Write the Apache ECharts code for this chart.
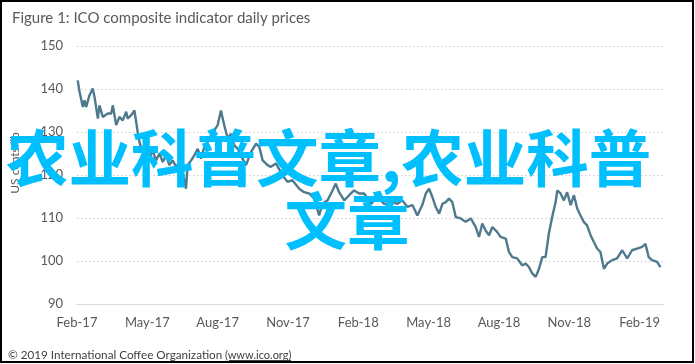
<!DOCTYPE html>
<html>
<head>
<meta charset="utf-8">
<script src="https://cdn.jsdelivr.net/npm/echarts@6/dist/echarts.min.js"></script>
<style>
html,body{margin:0;padding:0;background:#fff;}
#c{width:695px;height:364px;}
</style>
</head>
<body>
<div id="c"></div>
<script>
// Months since 1 Feb 2017
const months = [0.03,0.11,0.25,0.32,0.39,0.53,0.67,0.75,0.89,0.96,1.10,1.31,1.46,1.53,1.67,1.81,1.95,2.10,2.16,2.31,2.45,2.52,2.59,2.66,2.80,2.95,3.09,3.23,3.37,3.52,3.66,3.80,3.94,4.08,4.23,4.37,4.51,4.65,4.72,4.87,5.01,5.15,5.29,5.43,5.57,5.72,5.86,6.00,6.14,6.28,6.43,6.57,6.71,6.85,7.06,7.21,7.42,7.64,7.78,7.92,8.13,8.27,8.49,8.77,8.98,9.19,9.48,9.69,9.91,10.12,10.33,10.47,10.69,10.90,11.04,11.18,11.40,11.61,11.82,12.04,12.25,12.54,12.82,13.10,13.46,13.67,13.88,14.09,14.31,14.52,14.73,14.88,15.02,15.16,15.30,15.45,15.59,15.73,15.87,16.01,16.16,16.37,16.58,16.80,17.01,17.15,17.29,17.43,17.58,17.72,17.93,18.07,18.29,18.43,18.57,18.78,18.99,19.14,19.28,19.42,19.57,19.71,19.85,19.99,20.13,20.27,20.42,20.49,20.63,20.77,20.91,21.06,21.20,21.34,21.48,21.62,21.76,21.91,22.05,22.19,22.33,22.48,22.62,22.83,23.04,23.26,23.47,23.68,23.89,24.11,24.25,24.39,24.53,24.75,24.89];
// ICO composite indicator, US cents/lb
const prices = [142.0,139.3,135.8,137.4,135.8,138.5,140.1,138.1,133.1,136.2,133.5,134.3,134.3,136.2,131.6,133.5,132.7,134.7,133.1,133.9,135.0,135.4,130.0,127.7,125.3,126.5,123.8,125.7,123.4,125.0,123.0,124.6,122.3,123.4,121.9,123.0,120.7,116.8,122.3,123.4,124.6,126.1,123.8,126.5,127.7,129.2,130.4,131.6,135.0,131.6,128.5,129.6,126.9,126.1,123.8,122.3,125.3,127.3,126.5,123.4,122.3,121.9,122.7,119.9,118.4,118.8,116.8,116.0,115.7,114.5,110.6,113.3,114.1,116.4,118.0,116.0,114.1,115.3,116.4,115.7,115.7,113.3,114.9,113.3,113.7,113.3,114.1,112.6,113.0,110.6,113.0,115.7,116.8,114.9,112.6,111.0,113.3,113.7,114.5,113.7,110.2,109.9,109.1,109.9,107.9,105.6,108.7,107.1,106.0,107.9,106.7,105.6,105.2,102.1,100.9,100.6,99.0,99.4,98.6,97.1,96.3,98.2,100.9,100.9,106.4,110.2,113.7,116.4,115.7,114.1,116.0,113.0,115.3,112.2,110.6,109.1,108.3,106.0,104.4,102.9,102.1,98.2,99.4,100.2,100.6,102.5,100.6,102.5,102.9,103.3,104.0,100.9,100.2,99.8,98.6];
const tickLabels = ['Feb-17','May-17','Aug-17','Nov-17','Feb-18','May-18','Aug-18','Nov-18','Feb-19'];
const yTicks = [90,100,110,120,130,140,150];

const titleText = 'Figure 1: ICO composite indicator daily prices';
const yName = 'US cents/lb';
const footerText = '\u00a9 2019 International Coffee Organization';
const footerLink = '(www.ico.org)';
const overlay1 = '农业科普文章,农业科普';
const overlay2 = '文章';

const seriesData = months.map((m, i) => [m, prices[i]]);
const grey = '#595959';
const font = 'Lato, "Open Sans", sans-serif';

const chart = echarts.init(document.getElementById('c'), null, {renderer: 'canvas'});
chart.setOption({
  animation: false,
  backgroundColor: '#fff',
  title: {
    text: titleText, left: 7, top: 6,
    textStyle: {fontSize: 15, fontWeight: 'normal', color: grey, fontFamily: font}
  },
  grid: {left: 77, right: 32, top: 46, bottom: 60, containLabel: false},
  xAxis: {
    type: 'value', min: 0, max: 25, interval: 3,
    axisLine: {show: true, lineStyle: {color: '#d9d9d9', width: 1}},
    axisTick: {show: false},
    splitLine: {show: false},
    axisLabel: {
      margin: 12, color: grey, fontSize: 13, fontFamily: font,
      showMaxLabel: false,
      formatter: v => (Math.abs(v % 3) < 1e-6 && v / 3 < tickLabels.length) ? tickLabels[Math.round(v / 3)] : ''
    }
  },
  yAxis: {
    type: 'value', min: yTicks[0], max: yTicks[yTicks.length - 1], interval: 10,
    axisLine: {show: false}, axisTick: {show: false},
    axisLabel: {margin: 14, color: grey, fontSize: 13, fontFamily: font},
    splitLine: {show: true, lineStyle: {color: '#cfcfcf', width: 1, type: [1.5, 2.5]}}
  },
  series: [{
    type: 'line', data: seriesData, showSymbol: false, symbol: 'none',
    lineStyle: {color: '#4f7a8d', width: 2.4},
    z: 3
  }],
  graphic: [
    {type: 'text', z: 10, x: 15, y: 163, rotation: Math.PI / 2,
     style: {text: yName, fill: grey, fontSize: 12, fontFamily: font, align: 'center', verticalAlign: 'middle'}},
    {type: 'text', z: 10, x: 8, y: 355,
     style: {text: footerText, fill: '#404040', fontSize: 11.7, fontFamily: font, align: 'left', verticalAlign: 'middle'}},
    {type: 'text', z: 10, x: 225, y: 355,
     style: {text: footerLink, fill: '#404040', fontSize: 11, fontFamily: font, align: 'left', verticalAlign: 'middle'}},
    {type: 'line', z: 10, shape: {x1: 229, y1: 360.5, x2: 291, y2: 360.5}, style: {stroke: '#404040', lineWidth: 1}},
    {type: 'text', z: 20, x: 6, y: 158,
     style: {text: overlay1, fill: '#00bfff', fontSize: 62.5, fontWeight: 'bold', fontFamily: '"Noto Sans CJK SC"', align: 'left', verticalAlign: 'middle'}},
    {type: 'text', z: 20, x: 347, y: 221,
     style: {text: overlay2, fill: '#00bfff', fontSize: 62.5, fontWeight: 'bold', fontFamily: '"Noto Sans CJK SC"', align: 'center', verticalAlign: 'middle'}},
    {type: 'rect', z: 30, shape: {x: 1, y: 1, width: 692, height: 361},
     style: {fill: 'none', stroke: '#000', lineWidth: 2}}
  ]
});
</script>
</body>
</html>
